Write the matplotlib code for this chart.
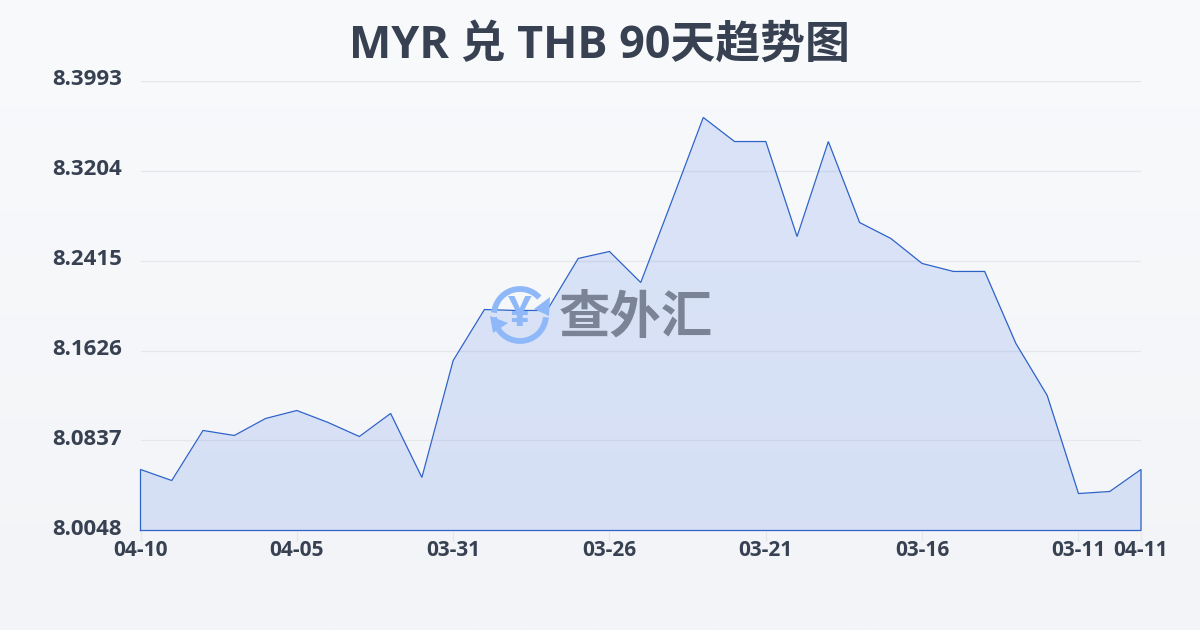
import numpy as np
import matplotlib
matplotlib.use('Agg')
import matplotlib.pyplot as plt
from matplotlib.patches import Arc, Polygon
from matplotlib.transforms import ScaledTranslation

plt.rcParams['font.family'] = ['Open Sans', 'Noto Sans CJK SC', 'DejaVu Sans']

title = 'MYR 兑 THB 90天趋势图'
rates = [8.0583, 8.0486, 8.0925, 8.0881, 8.1030, 8.1100, 8.0995, 8.0872, 8.1074, 8.0513,
         8.1538, 8.1985, 8.1977, 8.1977, 8.2433, 8.2494, 8.2222, 8.2941, 8.3669, 8.3458,
         8.3458, 8.2625, 8.3458, 8.2748, 8.2608, 8.2389, 8.2319, 8.2319, 8.1687, 8.1232,
         8.0372, 8.0390, 8.0583]
tick_idx = [0, 5, 10, 15, 20, 25, 30, 32]
tick_names = ['04-10', '04-05', '03-31', '03-26', '03-21', '03-16', '03-11', '04-11']
y_ticks = [8.0048, 8.0837, 8.1626, 8.2415, 8.3204, 8.3993]

text_col = '#374151'
line_col = '#2f63c9'

fig = plt.figure(figsize=(12, 6.3), dpi=100)

# background gradient
bg = fig.add_axes([0, 0, 1, 1], zorder=0)
grad = np.linspace(0, 1, 256).reshape(-1, 1)
top = np.array([0xf9, 0xfa, 0xfc]) / 255
bot = np.array([0xf2, 0xf4, 0xf7]) / 255
bg.imshow(top + grad[:, :, None] * (bot - top), aspect='auto', extent=[0, 1200, 630, 0])
bg.set_xlim(0, 1200)
bg.set_ylim(630, 0)
bg.axis('off')

ax = fig.add_axes([140.5 / 1200, 1 - 530.5 / 630, 1000.5 / 1200, 450 / 630], zorder=1)
ax.patch.set_alpha(0)
x = np.arange(len(rates))
ax.fill_between(x, rates, y_ticks[0], color='#4a7be8', alpha=0.17, lw=0, zorder=2)
outline_x = np.concatenate([[x[0]], x, [x[-1], x[0]]])
outline_y = [y_ticks[0]] + rates + [y_ticks[0], y_ticks[0]]
ax.plot(outline_x, outline_y, color=line_col, lw=0.9, zorder=4, clip_on=False, solid_joinstyle='miter')

ax.set_xlim(0, 32)
ax.set_ylim(y_ticks[0], y_ticks[-1])
ax.set_yticks(y_ticks)
ax.set_yticklabels([f'{v:.4f}' for v in y_ticks])
ax.set_xticks(tick_idx)
ax.set_xticklabels(tick_names)
ax.grid(axis='y', color='#e5e7eb', lw=0.9, zorder=1)
ax.set_axisbelow(True)
for s in ax.spines.values():
    s.set_visible(False)
ax.tick_params(axis='y', length=0, pad=13.5, labelsize=16, labelcolor=text_col)
ax.tick_params(axis='x', length=7, width=0.9, color='#e5e7eb', pad=-0.5, labelsize=15, labelcolor=text_col)
nudge = ScaledTranslation(0, 2.5 / 72, fig.dpi_scale_trans)
for t in ax.get_yticklabels():
    t.set_fontweight('bold')
    t.set_transform(t.get_transform() + nudge)
for t in ax.get_xticklabels():
    t.set_fontweight('bold')

fig.text(0.4995, 1 - 46 / 630, title, ha='center', va='center', fontsize=32.3, fontweight='bold', color=text_col)

# watermark, drawn in pixel coordinates on top of the fill
wm = fig.add_axes([0, 0, 1, 1], zorder=3)
wm.set_xlim(0, 1200)
wm.set_ylim(630, 0)
wm.axis('off')
blue = '#8fb8f8'
wm.add_patch(Arc((520, 315), 52, 52, theta1=185, theta2=318, color=blue, lw=4.2, zorder=1))
wm.add_patch(Arc((520, 315), 52, 52, theta1=5, theta2=175, color=blue, lw=4.2, zorder=1))
wm.add_patch(Polygon([[550, 297], [549, 316], [534, 309]], color=blue, lw=0))
wm.add_patch(Polygon([[490, 316], [508, 323], [493, 333]], color=blue, lw=0))
wm.text(520, 316, '¥', ha='center', va='center', fontsize=30, fontweight='bold', color=blue,
        family=['Open Sans', 'DejaVu Sans'])
wm.text(636, 320, '查外汇', ha='center', va='center', fontsize=37, fontweight='bold', color='#7b8496')

fig.savefig('out.png', dpi=100)
